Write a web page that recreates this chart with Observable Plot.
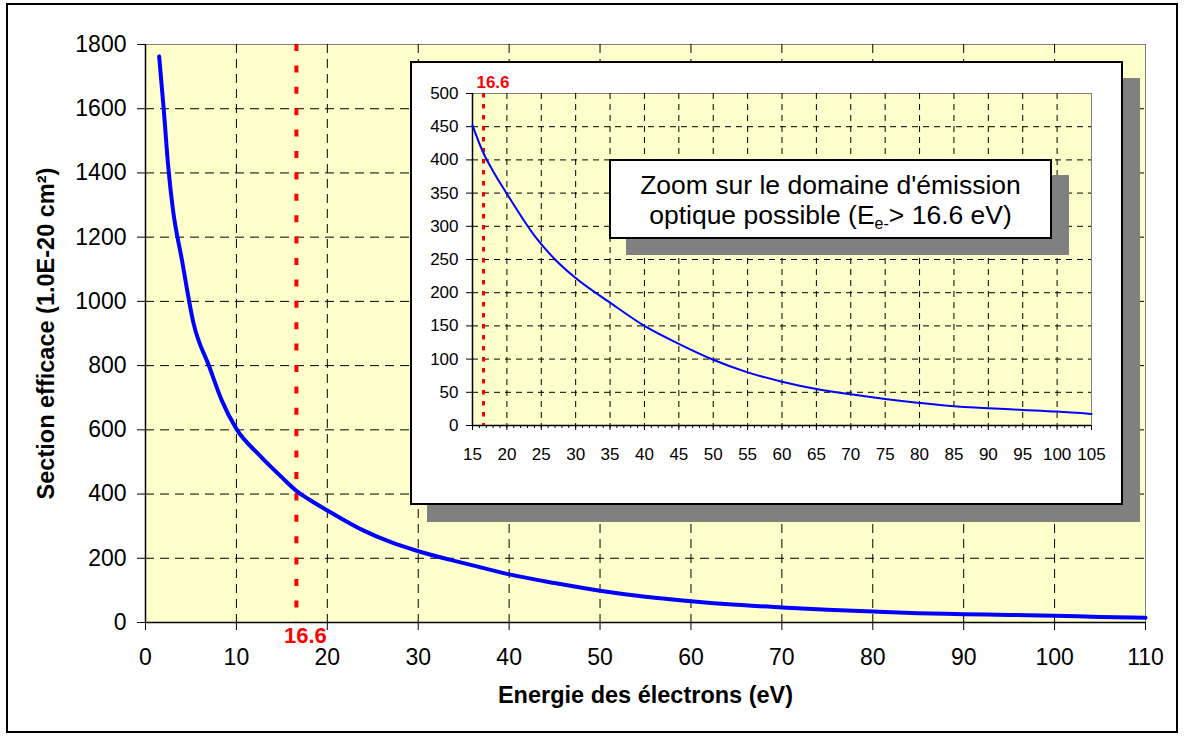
<!DOCTYPE html>
<html><head><meta charset="utf-8">
<script src="https://cdn.jsdelivr.net/npm/d3@7"></script>
<script src="https://cdn.jsdelivr.net/npm/@observablehq/plot@0.6"></script>
<style>
body{margin:0;background:#fff;font-family:"Liberation Sans",Arial,sans-serif;}
#wrap{position:relative;width:1184px;height:736px;overflow:hidden;background:#fff;}
#wrap > *{position:absolute;}
#frame{left:6px;top:3px;width:1172px;height:730px;border:2px solid #000;box-sizing:border-box;}
#main{left:0;top:0;}
#insetBox{left:410px;top:61px;width:713px;height:444px;background:#fff;border:2px solid #000;box-sizing:border-box;box-shadow:17px 17px 0 #808080;}
#inset{left:410px;top:61px;}
#note{left:609px;top:159px;width:443px;height:80px;background:#fff;border:2px solid #000;box-sizing:border-box;box-shadow:17px 16px 0 #808080;text-align:center;font-size:26.5px;line-height:30px;padding-top:9px;color:#000;white-space:nowrap;}
#note sub{font-size:16px;vertical-align:-5px;line-height:0;}
</style>
</head><body>
<div id="wrap">
  <div id="frame"></div>
  <div id="main"></div>
  <div id="insetBox"></div>
  <div id="inset"></div>
  <div id="note">Zoom sur le domaine d'émission<br>optique possible (E<sub>e-</sub>&gt; 16.6 eV)</div>
</div>
<script>
// ---- data ----
const energy = [1.5, 2, 2.5, 3, 4, 5.3, 7, 8.4, 10, 12.5, 15, 16.6, 18, 20, 24, 27, 30, 35, 40, 45, 50, 55, 60, 65, 70, 75, 80, 85, 88, 90, 95, 100, 105, 110];
const sigma  = [1763, 1600, 1420, 1290, 1130, 930, 798, 691, 603, 522, 452, 410, 383, 349, 286, 250, 222, 185, 150, 123, 99, 80, 66, 55, 47, 40, 34, 29, 27, 26, 23.5, 21, 17.5, 15];
const threshold = 16.6;
const thresholdLabel = "16.6";
const xTicksMain = [0, 10, 20, 30, 40, 50, 60, 70, 80, 90, 100, 110];
const yTicksMain = [0, 200, 400, 600, 800, 1000, 1200, 1400, 1600, 1800];
const xTicksInset = [15, 20, 25, 30, 35, 40, 45, 50, 55, 60, 65, 70, 75, 80, 85, 90, 95, 100, 105];
const yTicksInset = [0, 50, 100, 150, 200, 250, 300, 350, 400, 450, 500];
const xTitle = "Energie des électrons (eV)";
const yTitle = "Section efficace (1.0E-20 cm²)";

const data = energy.map((e, i) => ({e, s: sigma[i]}));
const insetData = data.filter(d => d.e >= 15 && d.e <= 105);
const xMinorInset = d3.range(15, 106, 1);

const font = '"Liberation Sans", Arial, sans-serif';
const fmt = d => String(d);

const main = Plot.plot({
  width: 1184, height: 736,
  marginLeft: 145, marginRight: 39, marginTop: 44, marginBottom: 114,
  x: {domain: [0, 110]},
  y: {domain: [0, 1800]},
  style: {fontFamily: font, fontSize: "23px", color: "#000", background: "transparent", overflow: "visible"},
  marks: [
    Plot.frame({fill: "#FFFFCC", stroke: "#808080"}),
    Plot.ruleX(xTicksMain.filter(v => v > 0 && v < 110), {stroke: "#000", strokeWidth: 1, strokeDasharray: "9,6"}),
    Plot.ruleY(yTicksMain.filter(v => v > 0 && v < 1800), {stroke: "#000", strokeWidth: 1, strokeDasharray: "9,6"}),
    Plot.ruleX([0], {stroke: "#000", strokeWidth: 1.5}),
    Plot.ruleY([0], {stroke: "#000", strokeWidth: 1.5}),
    Plot.axisX(xTicksMain, {tickSize: 8, tickPadding: 18, label: null, fontSize: 23, tickFormat: fmt}),
    Plot.axisY(yTicksMain, {tickSize: 8, tickPadding: 11, label: null, fontSize: 23, tickFormat: fmt}),
    Plot.ruleX([threshold], {stroke: "#FF0000", strokeWidth: 4, strokeDasharray: "7,14.4"}),
    Plot.line(data, {x: "e", y: "s", stroke: "#0000FF", strokeWidth: 4, curve: "monotone-x"}),
    Plot.text([thresholdLabel], {x: () => threshold, y: () => 0, text: d => d, dx: 9, dy: 13.5, fill: "#FF0000", fontWeight: "bold", fontSize: 22}),
    Plot.text([xTitle], {frameAnchor: "bottom", text: d => d, dy: 72.5, lineAnchor: "middle", textAnchor: "middle", fontWeight: "bold", fontSize: 23.5}),
    Plot.text([yTitle], {frameAnchor: "left", text: d => d, dx: -99, rotate: -90, textAnchor: "middle", lineAnchor: "middle", fontWeight: "bold", fontSize: 23.5})
  ]
});
document.getElementById("main").appendChild(main);

const inset = Plot.plot({
  width: 713, height: 444,
  marginLeft: 62, marginRight: 32, marginTop: 32, marginBottom: 80,
  x: {domain: [15, 105]},
  y: {domain: [0, 500]},
  style: {fontFamily: font, fontSize: "17px", color: "#000", background: "transparent", overflow: "visible"},
  marks: [
    Plot.frame({fill: "#FFFFCC", stroke: "#808080"}),
    Plot.ruleX(xTicksInset.filter(v => v > 15 && v < 105), {stroke: "#000", strokeWidth: 1, strokeDasharray: "6,5"}),
    Plot.ruleY(yTicksInset.filter(v => v > 0 && v < 500), {stroke: "#000", strokeWidth: 1, strokeDasharray: "6,5"}),
    Plot.ruleX([15], {stroke: "#000", strokeWidth: 1.5}),
    Plot.ruleY([0], {stroke: "#000", strokeWidth: 1.5}),
    Plot.axisX(xMinorInset, {tickSize: 3, tickFormat: () => "", label: null}),
    Plot.axisX(xTicksInset, {tickSize: 5, tickPadding: 17, label: null, fontSize: 17, tickFormat: fmt}),
    Plot.axisY(yTicksInset, {tickSize: 6, tickPadding: 8, label: null, fontSize: 17, tickFormat: fmt}),
    Plot.ruleX([threshold], {stroke: "#FF0000", strokeWidth: 3, strokeDasharray: "4.5,6.5"}),
    Plot.line(insetData, {x: "e", y: "s", stroke: "#0000FF", strokeWidth: 2, curve: "monotone-x"}),
    Plot.text([thresholdLabel], {x: () => threshold, y: () => 500, text: d => d, dx: 9.5, dy: -10.7, fill: "#FF0000", fontWeight: "bold", fontSize: 17})
  ]
});
document.getElementById("inset").appendChild(inset);
</script>
</body></html>
